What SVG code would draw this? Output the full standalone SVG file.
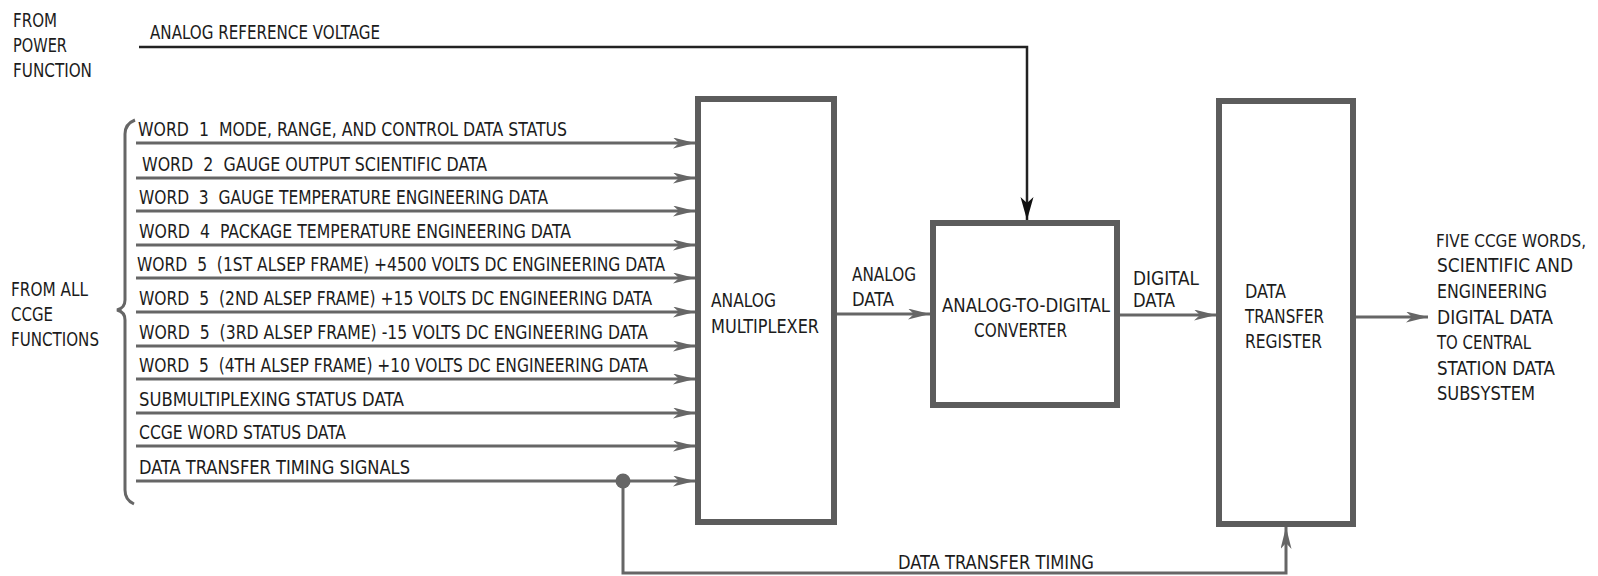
<svg xmlns="http://www.w3.org/2000/svg" width="1598" height="576" viewBox="0 0 1598 576">
<style>
text{font-family:"Liberation Sans Narrow","DejaVu Sans Condensed","Liberation Sans",sans-serif;font-size:19px;fill:#1c1c1c}
.pre{white-space:pre}
.sm{font-size:17px}
.box{fill:#fff;stroke:#5c5c5c;stroke-width:6}
.ln{fill:none;stroke:#666;stroke-width:3}
.blk{fill:none;stroke:#222;stroke-width:2.5}
</style>
<defs>
<marker id="ah" markerUnits="userSpaceOnUse" markerWidth="24" markerHeight="12" refX="22" refY="5.5" orient="auto">
<path d="M0,0 L22,5.5 L0,11 L6,5.5 z" fill="#666"/>
</marker>
<marker id="ahb" markerUnits="userSpaceOnUse" markerWidth="24" markerHeight="14" refX="23" refY="6.5" orient="auto">
<path d="M0,0 L23,6.5 L0,13 L6,6.5 z" fill="#111"/>
</marker>
</defs>
<rect width="1598" height="576" fill="#fff"/>

<g id="connectors">
<path class="blk" d="M139,47 H1027 V220" marker-end="url(#ahb)"/>
<path class="ln" d="M136,143 H695" marker-end="url(#ah)"/>
<path class="ln" d="M136,178 H695" marker-end="url(#ah)"/>
<path class="ln" d="M136,211 H695" marker-end="url(#ah)"/>
<path class="ln" d="M136,245 H695" marker-end="url(#ah)"/>
<path class="ln" d="M136,278 H695" marker-end="url(#ah)"/>
<path class="ln" d="M136,312 H695" marker-end="url(#ah)"/>
<path class="ln" d="M136,346 H695" marker-end="url(#ah)"/>
<path class="ln" d="M136,379 H695" marker-end="url(#ah)"/>
<path class="ln" d="M136,413 H695" marker-end="url(#ah)"/>
<path class="ln" d="M136,446 H695" marker-end="url(#ah)"/>
<path class="ln" d="M136,481 H695" marker-end="url(#ah)"/>
<path class="ln" d="M834,314 H930" marker-end="url(#ah)"/>
<path class="ln" d="M1117,315 H1216" marker-end="url(#ah)"/>
<path class="ln" d="M1356,317 H1428" marker-end="url(#ah)"/>
<path class="ln" d="M623,481 V573 H1286 V527" marker-end="url(#ah)"/>
<circle cx="623" cy="481" r="7.5" fill="#666"/>
<path class="ln" d="M135,120 Q125,124 125,134 V300 Q125,308 117,310 Q125,312 125,320 V490 Q125,500 134,504"/>
</g>

<g id="labels-left">
<text x="13" y="27" textLength="44" lengthAdjust="spacingAndGlyphs">FROM</text>
<text x="13" y="52" textLength="54" lengthAdjust="spacingAndGlyphs">POWER</text>
<text x="13" y="77" textLength="79" lengthAdjust="spacingAndGlyphs">FUNCTION</text>
<text x="150" y="39" textLength="230" lengthAdjust="spacingAndGlyphs">ANALOG REFERENCE VOLTAGE</text>
<text x="11" y="296" textLength="77" lengthAdjust="spacingAndGlyphs">FROM ALL</text>
<text x="11" y="321" textLength="42" lengthAdjust="spacingAndGlyphs">CCGE</text>
<text x="11" y="346" textLength="88" lengthAdjust="spacingAndGlyphs">FUNCTIONS</text>
</g>

<g id="inputs">
<text class="pre" x="138" y="136" textLength="429" lengthAdjust="spacingAndGlyphs">WORD  1  MODE, RANGE, AND CONTROL DATA STATUS</text>
<text class="pre" x="142" y="171" textLength="345" lengthAdjust="spacingAndGlyphs">WORD  2  GAUGE OUTPUT SCIENTIFIC DATA</text>
<text class="pre" x="139" y="204" textLength="409" lengthAdjust="spacingAndGlyphs">WORD  3  GAUGE TEMPERATURE ENGINEERING DATA</text>
<text class="pre" x="139" y="238" textLength="432" lengthAdjust="spacingAndGlyphs">WORD  4  PACKAGE TEMPERATURE ENGINEERING DATA</text>
<text class="pre" x="137" y="271" textLength="528" lengthAdjust="spacingAndGlyphs">WORD  5  (1ST ALSEP FRAME) +4500 VOLTS DC ENGINEERING DATA</text>
<text class="pre" x="139" y="305" textLength="513" lengthAdjust="spacingAndGlyphs">WORD  5  (2ND ALSEP FRAME) +15 VOLTS DC ENGINEERING DATA</text>
<text class="pre" x="139" y="339" textLength="509" lengthAdjust="spacingAndGlyphs">WORD  5  (3RD ALSEP FRAME) -15 VOLTS DC ENGINEERING DATA</text>
<text class="pre" x="139" y="372" textLength="509" lengthAdjust="spacingAndGlyphs">WORD  5  (4TH ALSEP FRAME) +10 VOLTS DC ENGINEERING DATA</text>
<text x="139" y="406" textLength="265" lengthAdjust="spacingAndGlyphs">SUBMULTIPLEXING STATUS DATA</text>
<text x="139" y="439" textLength="207" lengthAdjust="spacingAndGlyphs">CCGE WORD STATUS DATA</text>
<text x="139" y="474" textLength="271" lengthAdjust="spacingAndGlyphs">DATA TRANSFER TIMING SIGNALS</text>
</g>

<g id="analog-multiplexer">
<rect class="box" x="698" y="99" width="136" height="423"/>
<text x="711" y="307" textLength="65" lengthAdjust="spacingAndGlyphs">ANALOG</text>
<text x="711" y="333" textLength="108" lengthAdjust="spacingAndGlyphs">MULTIPLEXER</text>
</g>

<g id="analog-data-label">
<text x="852" y="281" textLength="64" lengthAdjust="spacingAndGlyphs">ANALOG</text>
<text x="852" y="306" textLength="42" lengthAdjust="spacingAndGlyphs">DATA</text>
</g>

<g id="adc">
<rect class="box" x="933" y="223" width="184" height="182"/>
<text x="942" y="312" textLength="168" lengthAdjust="spacingAndGlyphs">ANALOG-TO-DIGITAL</text>
<text x="974" y="337" textLength="93" lengthAdjust="spacingAndGlyphs">CONVERTER</text>
</g>

<g id="digital-data-label">
<text x="1133" y="285" textLength="66" lengthAdjust="spacingAndGlyphs">DIGITAL</text>
<text x="1133" y="307" textLength="42" lengthAdjust="spacingAndGlyphs">DATA</text>
</g>

<g id="data-transfer-register">
<rect class="box" x="1219" y="101" width="134" height="423"/>
<text x="1245" y="298" textLength="41" lengthAdjust="spacingAndGlyphs">DATA</text>
<text x="1245" y="323" textLength="79" lengthAdjust="spacingAndGlyphs">TRANSFER</text>
<text x="1245" y="348" textLength="77" lengthAdjust="spacingAndGlyphs">REGISTER</text>
</g>

<g id="output-label">
<text class="sm" x="1436" y="247" textLength="150" lengthAdjust="spacingAndGlyphs">FIVE CCGE WORDS,</text>
<text x="1437" y="272" textLength="136" lengthAdjust="spacingAndGlyphs">SCIENTIFIC AND</text>
<text x="1437" y="298" textLength="110" lengthAdjust="spacingAndGlyphs">ENGINEERING</text>
<text x="1437" y="324" textLength="116" lengthAdjust="spacingAndGlyphs">DIGITAL DATA</text>
<text x="1437" y="349" textLength="94" lengthAdjust="spacingAndGlyphs">TO CENTRAL</text>
<text x="1437" y="375" textLength="118" lengthAdjust="spacingAndGlyphs">STATION DATA</text>
<text x="1437" y="400" textLength="98" lengthAdjust="spacingAndGlyphs">SUBSYSTEM</text>
</g>

<g id="timing-label">
<text x="898" y="569" textLength="196" lengthAdjust="spacingAndGlyphs">DATA TRANSFER TIMING</text>
</g>
</svg>
